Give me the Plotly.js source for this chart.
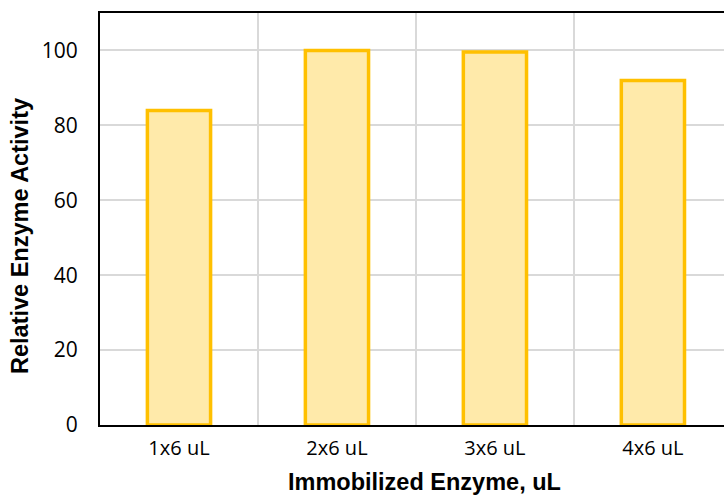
<!DOCTYPE html>
<html>
<head>
<meta charset="utf-8">
<script src="https://cdn.plot.ly/plotly-3.0.1.min.js"></script>
<style>html,body{margin:0;padding:0;background:#fff;}#chart{width:724px;height:497px;}</style>
</head>
<body>
<div id="chart"></div>
<script>
const categories = ["1x6 uL", "2x6 uL", "3x6 uL", "4x6 uL"];
const activity = [84, 100, 99.6, 92];
const yTicks = [0, 20, 40, 60, 80, 100];
const xTitle = "Immobilized Enzyme, uL";
const yTitle = "Relative Enzyme Activity";

const trace = {
  type: "bar",
  x: categories,
  y: activity,
  width: 0.4,
  marker: { color: "#FFEAAA", line: { color: "#FFC000", width: 3.5 } },
  hoverinfo: "none"
};

const titleFont = { family: "Liberation Sans, Arial, sans-serif", size: 23.5, color: "#000", weight: "bold" };

const layout = {
  width: 724,
  height: 497,
  margin: { l: 100, r: 0, t: 13, b: 72 },
  paper_bgcolor: "#fff",
  plot_bgcolor: "#fff",
  showlegend: false,
  xaxis: {
    type: "category",
    range: [-0.5, 3.45],
    tickson: "boundaries",
    showgrid: true,
    gridcolor: "#d9d9d9",
    gridwidth: 2,
    ticks: "",
    showline: true,
    linecolor: "#000",
    linewidth: 2,
    mirror: true,
    tickfont: { family: "Open Sans, Liberation Sans, sans-serif", size: 20, color: "#000" },
    ticklabelstandoff: 4
  },
  yaxis: {
    range: [0, 110],
    tickvals: yTicks,
    ticktext: yTicks.map(String),
    showgrid: true,
    gridcolor: "#d9d9d9",
    gridwidth: 2,
    zeroline: false,
    ticks: "",
    showline: true,
    linecolor: "#000",
    linewidth: 2,
    tickfont: { family: "Open Sans, Liberation Sans, sans-serif", size: 21, color: "#000" },
    ticklabelstandoff: 16
  },
  annotations: [
    {
      text: xTitle, font: titleFont, showarrow: false,
      xref: "paper", yref: "paper",
      x: (424 - 100) / 624, y: (425 - 482) / 412,
      xanchor: "center", yanchor: "middle"
    },
    {
      text: yTitle, font: titleFont, showarrow: false, textangle: -90,
      xref: "paper", yref: "paper",
      x: (20 - 100) / 624, y: (425 - 236) / 412,
      xanchor: "center", yanchor: "middle"
    }
  ]
};

Plotly.newPlot("chart", [trace], layout, { staticPlot: true, displayModeBar: false });
</script>
</body>
</html>
